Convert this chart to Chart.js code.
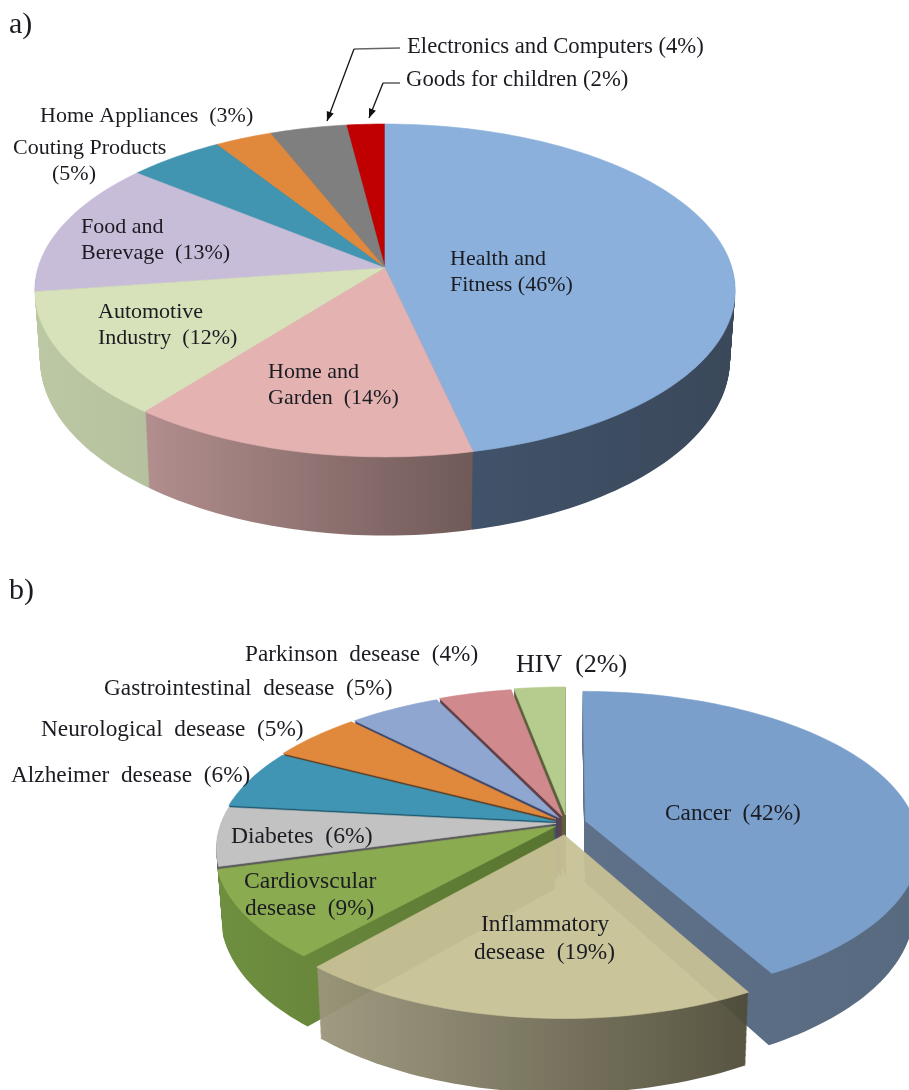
<!DOCTYPE html>
<html>
<head>
<meta charset="utf-8">
<style>
html,body{margin:0;padding:0;background:#fff;overflow:hidden;width:909px;height:1090px}
canvas{display:block;position:absolute;left:0}
#a{top:0}#b{top:545px}
</style>
<script src="https://cdn.jsdelivr.net/npm/chart.js@4"></script>
</head>
<body>
<canvas id="a" width="909" height="545"></canvas>
<canvas id="b" width="909" height="545"></canvas>
<script>
// ---- data a)
const categoriesA = ['Health and Fitness','Home and Garden','Automotive Industry','Food and Berevage','Couting Products','Home Appliances','Electronics and Computers','Goods for children'];
const valuesA = [46,14,12,13,5,3,4,2];
// ---- data b)
const categoriesB = ['Cancer','Inflammatory desease','Cardiovscular desease','Diabetes','Alzheimer desease','Neurological desease','Gastrointestinal desease','Parkinson desease','HIV'];
const valuesB = [42,19,9,6,6,5,5,4,2];

// ---- styles
const topA  = ['#8cb0dc','#e3b2b1','#d7e2ba','#c8bdd8','#4295b0','#e0883c','#7f7f7f','#c00000'];
const wallA = [['#43566f','#3a485a'],['#b28e8e','#6f5a58'],['#bcc8a4','#a9b494'],['#7d7490','#7d7490'],['#2a6073','#2a6073'],['#8a5425','#8a5425'],['#555','#555'],['#700','#700']];
const offsetA = [0,0,0,0,0,0,0,0];
const widthA = [1,1,1,1,1,1,1,1];
const topB  = ['#7a9fcb','#c8c196','#8bab50','#c2c2c2','#3f95b3','#e0883c','#8ea6d0','#d0898c','#b6cc8f'];
const wallB = [['#5f7189','#586a80'],['#9c967c','#4f4c38'],['#6f8f40','#587430'],['#5c5c5c','#5c5c5c'],['#1d5a70','#1d5a70'],['#5e4028','#5e4028'],['#3f4768','#3f4768'],['#604048','#604048'],['#5a5f3c','#5a5f3c']];
const offsetB = [19,26,13,11,12,14,14,16,18];
const widthB = [0.985,0.975,1,1,1,1,1,1,1];
const alphaB = [1,0.95,1,1,1,1,1,1,1];

// shift: inner slice boundaries sit a little counter-clockwise of the printed percentages in the drawing
const viewA = {cx:385, cy:268, a:347, b:163.4, p:0.135, depth:68, shrink:0.015, top:0, shift:0};
const viewB = {cx:567, cy:823, a:335, b:150.6, p:0.158, depth:62, shrink:0.015, top:545, shift:-3*Math.PI/180};

const SERIF = '"Liberation Serif","Times New Roman",serif';
const textA = [
 ['a)',9,33,30],
 ['Electronics and Computers (4%)',407,53,22.7],
 ['Goods for children (2%)',406,86,22.7],
 ['Home Appliances  (3%)',40,122,22],
 ['Couting Products',13,154,22],
 ['(5%)',52,180,22],
 ['Food and',81,233,22],
 ['Berevage  (13%)',81,259,22],
 ['Automotive',98,318,22],
 ['Industry  (12%)',98,344,22],
 ['Home and',268,378,22],
 ['Garden  (14%)',268,404,22],
 ['Health and',450,265,22],
 ['Fitness (46%)',450,291,22]
];
const textB = [
 ['b)',9,599,30],
 ['Parkinson  desease  (4%)',245,661,23.2],
 ['HIV  (2%)',516,672,26],
 ['Gastrointestinal  desease  (5%)',104,695,23.3],
 ['Neurological  desease  (5%)',41,736,23.3],
 ['Alzheimer  desease  (6%)',11,782,23.3],
 ['Diabetes  (6%)',231,843,23.6],
 ['Cardiovscular',244,888,23.6],
 ['desease  (9%)',245,915,23.3],
 ['Inflammatory',481,931,23.3],
 ['desease  (19%)',474,959,23.3],
 ['Cancer  (42%)',665,820,23.3]
];
const leadersA = [
 {pts:[[400,48],[354,49],[327,121]]},
 {pts:[[400,83],[383,83],[369,118]]}
];

function project(v,u,w,d){
  const k = 1 - v.p*w;
  const s = 1 - v.shrink*d/v.depth;
  return [v.cx + v.a*u/k*s, v.cy + (v.b*w + d)/k];
}
function trace(ctx,v,pts,d){
  ctx.beginPath();
  pts.forEach((q,i)=>{const P=project(v,q[0],q[1],d); i?ctx.lineTo(P[0],P[1]):ctx.moveTo(P[0],P[1]);});
  ctx.closePath();
}
function paintSlice(ctx,v,el,top,wall,e,wide,isFirst,isLast){
  const s=el.startAngle+(isFirst?0:v.shift), t=el.endAngle+(isLast?0:v.shift), m=(s+t)/2;
  const ox=Math.cos(m)*e/v.a, oy=Math.sin(m)*e/v.a;
  const n=Math.max(8,Math.ceil((t-s)*40));
  const pts=[[ox,oy]];
  for(let i=0;i<=n;i++){const th=s+(t-s)*i/n; pts.push([ox+Math.cos(th)*wide,oy+Math.sin(th)]);}
  const xs=pts.map(q=>project(v,q[0],q[1],0)[0]);
  const g=ctx.createLinearGradient(Math.min(...xs),0,Math.max(...xs),0);
  g.addColorStop(0,wall[0]); g.addColorStop(1,wall[1]);
  ctx.fillStyle=g;
  for(let d=v.depth;d>0;d-=1){trace(ctx,v,pts,d);ctx.fill();}
  trace(ctx,v,pts,0);
  ctx.fillStyle=top; ctx.fill();
  ctx.strokeStyle=top; ctx.lineWidth=0.6; ctx.stroke();
}
function pie3d(view,tops,walls,widths,alphas,texts,leaders){
  return {
    id:'pie3d',
    beforeDatasetsDraw(chart){
      const ctx=chart.ctx, meta=chart.getDatasetMeta(0), last=meta.data.length-1;
      ctx.save();
      ctx.translate(0,-view.top);
      const order=meta.data.map((el,i)=>({el,i,k:Math.sin((el.startAngle+el.endAngle)/2)})).sort((x,y)=>x.k-y.k);
      order.forEach(o=>{
        const e=o.el.options.offset||0;
        const al=alphas?alphas[o.i]:1;
        if(al<1){
          const off=document.createElement('canvas');
          off.width=chart.width; off.height=chart.height;
          const c2=off.getContext('2d');
          c2.translate(0,-view.top);
          paintSlice(c2,view,o.el,tops[o.i],walls[o.i],e,widths[o.i],o.i===0,o.i===last);
          ctx.save();ctx.setTransform(1,0,0,1,0,0);ctx.globalAlpha=al;ctx.drawImage(off,0,0);ctx.restore();
        } else paintSlice(ctx,view,o.el,tops[o.i],walls[o.i],e,widths[o.i],o.i===0,o.i===last);
      });
      (leaders||[]).forEach(l=>{
        ctx.strokeStyle='#666';ctx.lineWidth=1.6;
        ctx.beginPath();ctx.moveTo(l.pts[0][0],l.pts[0][1]);ctx.lineTo(l.pts[1][0],l.pts[1][1]);ctx.stroke();
        ctx.strokeStyle='#111';ctx.lineWidth=1.3;
        ctx.beginPath();ctx.moveTo(l.pts[1][0],l.pts[1][1]);ctx.lineTo(l.pts[2][0],l.pts[2][1]);ctx.stroke();
        const [x0,y0]=l.pts[1],[x1,y1]=l.pts[2],an=Math.atan2(y1-y0,x1-x0);
        ctx.fillStyle='#111';ctx.beginPath();ctx.moveTo(x1,y1);
        ctx.lineTo(x1-10*Math.cos(an-0.38),y1-10*Math.sin(an-0.38));
        ctx.lineTo(x1-10*Math.cos(an+0.38),y1-10*Math.sin(an+0.38));ctx.closePath();ctx.fill();
      });
      ctx.fillStyle='#1b1b22';ctx.textAlign='left';ctx.textBaseline='alphabetic';
      texts.forEach(t=>{ctx.font=t[3]+'px '+SERIF;ctx.fillText(t[0],t[1],t[2]);});
      ctx.restore();
      return false;
    }
  };
}
function make(id,labels,data,offset,view,tops,walls,widths,alphas,texts,leaders){
  return new Chart(document.getElementById(id),{
    type:'pie',
    data:{labels,datasets:[{data,backgroundColor:tops,offset,borderWidth:0}]},
    options:{responsive:false,animation:false,events:[],plugins:{legend:{display:false},tooltip:{enabled:false}}},
    plugins:[pie3d(view,tops,walls,widths,alphas,texts,leaders)]
  });
}
make('a',categoriesA,valuesA,offsetA,viewA,topA,wallA,widthA,null,textA,leadersA);
make('b',categoriesB,valuesB,offsetB,viewB,topB,wallB,widthB,alphaB,textB,null);
</script>
</body>
</html>
